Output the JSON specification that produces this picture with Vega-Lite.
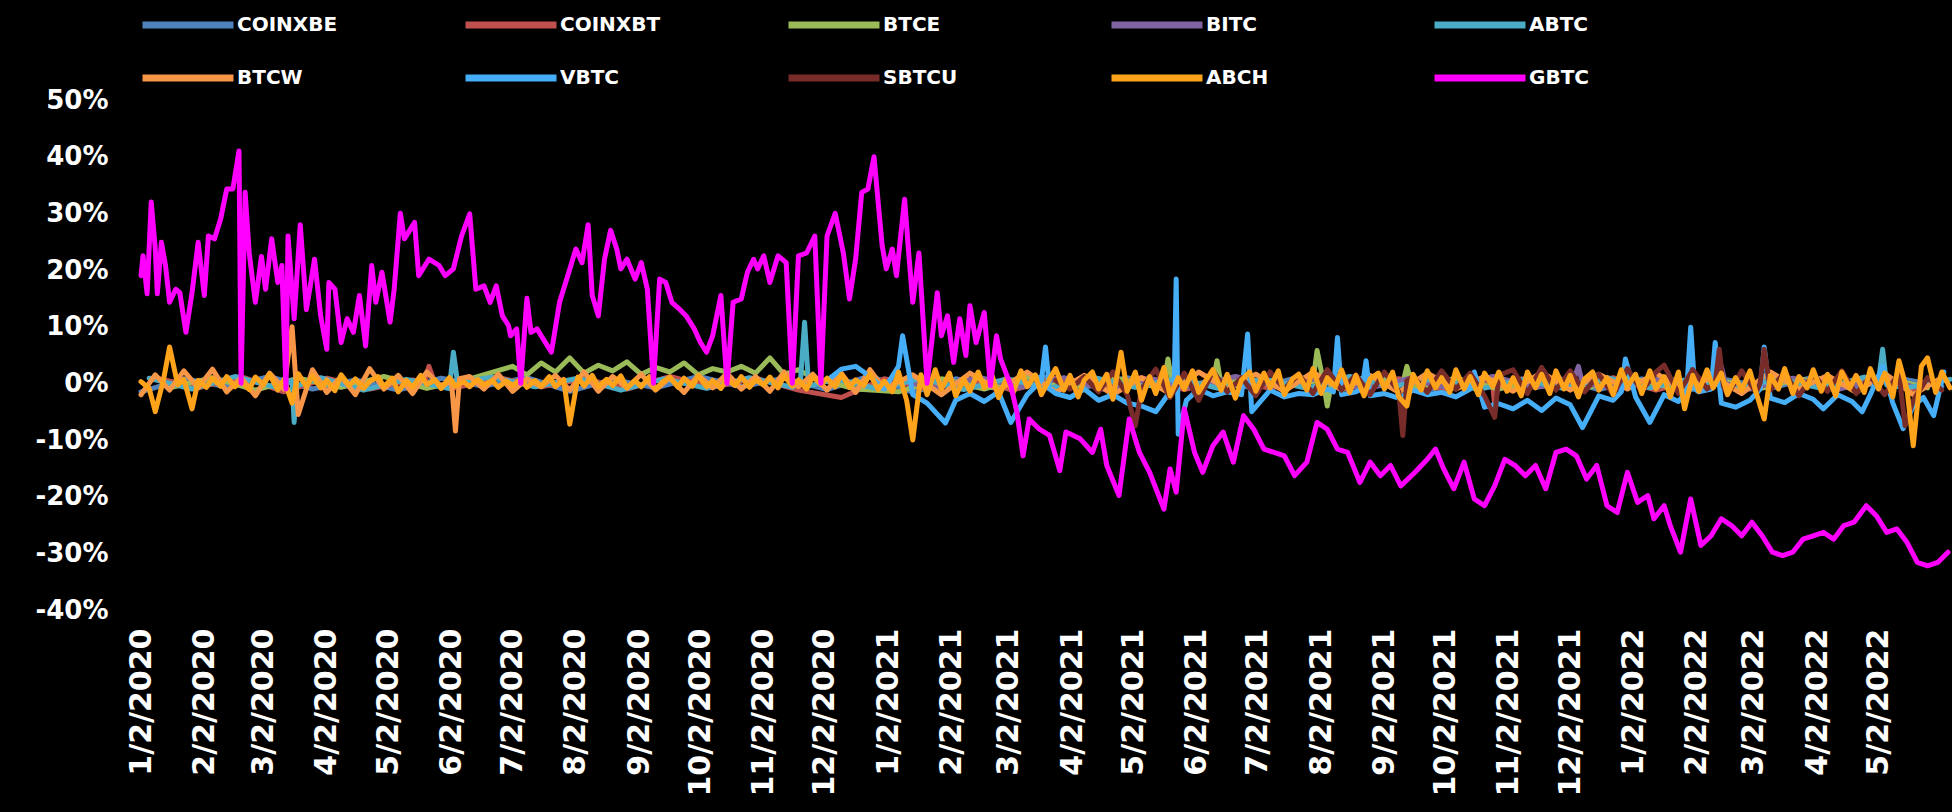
{
"$schema": "https://vega.github.io/schema/vega-lite/v6.json",
"width": 1809, "height": 510,
"autosize": {"type": "none"},
"padding": {"left": 141, "top": 100, "right": 2, "bottom": 202},
"background": "#000000",
"config": {"view": {"stroke": null}},
"data": {"values": [
{"d":"2020-01-02","s":"COINXBE","v":-1.5},{"d":"2020-01-23","s":"COINXBE","v":0.8},{"d":"2020-02-13","s":"COINXBE","v":-0.6},{"d":"2020-03-05","s":"COINXBE","v":1.2},{"d":"2020-03-26","s":"COINXBE","v":-1.0},{"d":"2020-04-16","s":"COINXBE","v":0.6},{"d":"2020-05-07","s":"COINXBE","v":-1.2},{"d":"2020-05-28","s":"COINXBE","v":0.9},{"d":"2020-06-18","s":"COINXBE","v":-0.5},{"d":"2020-07-09","s":"COINXBE","v":1.0},{"d":"2020-07-30","s":"COINXBE","v":-1.4},{"d":"2020-08-20","s":"COINXBE","v":0.7},{"d":"2020-09-10","s":"COINXBE","v":-0.8},{"d":"2020-10-01","s":"COINXBE","v":1.2},{"d":"2020-10-22","s":"COINXBE","v":-0.6},{"d":"2020-11-12","s":"COINXBE","v":0.9},{"d":"2020-12-03","s":"COINXBE","v":-1.1},{"d":"2020-12-24","s":"COINXBE","v":1.3},{"d":"2021-01-14","s":"COINXBE","v":-1.6},{"d":"2021-02-04","s":"COINXBE","v":0.8},{"d":"2021-02-25","s":"COINXBE","v":-1.0},{"d":"2021-03-18","s":"COINXBE","v":1.2},{"d":"2021-04-08","s":"COINXBE","v":-0.7},{"d":"2021-04-29","s":"COINXBE","v":1.0},{"d":"2021-05-20","s":"COINXBE","v":-1.3},{"d":"2021-06-10","s":"COINXBE","v":0.6},{"d":"2021-07-01","s":"COINXBE","v":-0.9},{"d":"2021-07-22","s":"COINXBE","v":1.1},{"d":"2021-08-12","s":"COINXBE","v":-0.5},{"d":"2021-09-02","s":"COINXBE","v":0.9},{"d":"2021-09-23","s":"COINXBE","v":-1.2},{"d":"2021-10-14","s":"COINXBE","v":0.7},{"d":"2021-11-04","s":"COINXBE","v":-0.8},{"d":"2021-11-25","s":"COINXBE","v":1.0},{"d":"2021-12-16","s":"COINXBE","v":-1.1},{"d":"2022-01-06","s":"COINXBE","v":0.8},{"d":"2022-01-27","s":"COINXBE","v":-1.4},{"d":"2022-02-17","s":"COINXBE","v":0.6},{"d":"2022-03-10","s":"COINXBE","v":-0.9},{"d":"2022-03-31","s":"COINXBE","v":1.1},{"d":"2022-04-21","s":"COINXBE","v":-0.7},{"d":"2022-05-12","s":"COINXBE","v":0.9},{"d":"2022-06-02","s":"COINXBE","v":-0.6},
{"d":"2020-01-09","s":"COINXBT","v":1.0},{"d":"2020-01-30","s":"COINXBT","v":-0.8},{"d":"2020-02-20","s":"COINXBT","v":1.2},{"d":"2020-03-12","s":"COINXBT","v":-1.5},{"d":"2020-04-02","s":"COINXBT","v":0.9},{"d":"2020-04-23","s":"COINXBT","v":-1.0},{"d":"2020-05-14","s":"COINXBT","v":0.6},{"d":"2020-05-20","s":"COINXBT","v":0.2},{"d":"2020-05-22","s":"COINXBT","v":3.0},{"d":"2020-05-25","s":"COINXBT","v":0.0},{"d":"2020-06-04","s":"COINXBT","v":-0.8},{"d":"2020-06-25","s":"COINXBT","v":1.0},{"d":"2020-07-16","s":"COINXBT","v":-0.6},{"d":"2020-08-06","s":"COINXBT","v":0.8},{"d":"2020-08-27","s":"COINXBT","v":-1.0},{"d":"2020-09-17","s":"COINXBT","v":1.2},{"d":"2020-10-08","s":"COINXBT","v":-0.7},{"d":"2020-10-29","s":"COINXBT","v":0.9},{"d":"2020-11-19","s":"COINXBT","v":-1.2},{"d":"2020-12-10","s":"COINXBT","v":-2.5},{"d":"2020-12-31","s":"COINXBT","v":0.8},{"d":"2021-01-21","s":"COINXBT","v":-1.0},{"d":"2021-02-11","s":"COINXBT","v":0.7},{"d":"2021-03-04","s":"COINXBT","v":-1.2},{"d":"2021-03-25","s":"COINXBT","v":0.9},{"d":"2021-04-15","s":"COINXBT","v":-0.6},{"d":"2021-05-06","s":"COINXBT","v":1.0},{"d":"2021-05-27","s":"COINXBT","v":-1.1},{"d":"2021-06-17","s":"COINXBT","v":0.8},{"d":"2021-07-08","s":"COINXBT","v":-0.9},{"d":"2021-07-29","s":"COINXBT","v":1.2},{"d":"2021-08-19","s":"COINXBT","v":-0.6},{"d":"2021-09-09","s":"COINXBT","v":0.8},{"d":"2021-09-30","s":"COINXBT","v":-1.0},{"d":"2021-10-21","s":"COINXBT","v":0.6},{"d":"2021-10-25","s":"COINXBT","v":0.0},{"d":"2021-10-26","s":"COINXBT","v":-4.0},{"d":"2021-10-28","s":"COINXBT","v":0.3},{"d":"2021-11-11","s":"COINXBT","v":0.9},{"d":"2021-12-02","s":"COINXBT","v":-0.8},{"d":"2021-12-23","s":"COINXBT","v":1.0},{"d":"2022-01-13","s":"COINXBT","v":-1.2},{"d":"2022-02-03","s":"COINXBT","v":0.7},{"d":"2022-02-24","s":"COINXBT","v":-0.9},{"d":"2022-03-17","s":"COINXBT","v":1.1},{"d":"2022-04-07","s":"COINXBT","v":-0.6},{"d":"2022-04-28","s":"COINXBT","v":0.8},{"d":"2022-05-19","s":"COINXBT","v":-1.0},
{"d":"2020-01-16","s":"BTCE","v":-0.8},{"d":"2020-02-06","s":"BTCE","v":1.0},{"d":"2020-02-27","s":"BTCE","v":-1.2},{"d":"2020-03-19","s":"BTCE","v":0.9},{"d":"2020-04-09","s":"BTCE","v":-0.7},{"d":"2020-04-30","s":"BTCE","v":1.2},{"d":"2020-05-21","s":"BTCE","v":-0.9},{"d":"2020-06-11","s":"BTCE","v":0.8},{"d":"2020-07-02","s":"BTCE","v":3.0},{"d":"2020-07-09","s":"BTCE","v":1.5},{"d":"2020-07-16","s":"BTCE","v":3.6},{"d":"2020-07-23","s":"BTCE","v":2.0},{"d":"2020-07-30","s":"BTCE","v":4.5},{"d":"2020-08-06","s":"BTCE","v":1.8},{"d":"2020-08-13","s":"BTCE","v":3.2},{"d":"2020-08-20","s":"BTCE","v":2.2},{"d":"2020-08-27","s":"BTCE","v":3.8},{"d":"2020-09-03","s":"BTCE","v":1.6},{"d":"2020-09-10","s":"BTCE","v":2.8},{"d":"2020-09-17","s":"BTCE","v":2.0},{"d":"2020-09-24","s":"BTCE","v":3.6},{"d":"2020-10-01","s":"BTCE","v":1.5},{"d":"2020-10-08","s":"BTCE","v":2.6},{"d":"2020-10-15","s":"BTCE","v":2.0},{"d":"2020-10-22","s":"BTCE","v":3.0},{"d":"2020-10-29","s":"BTCE","v":1.8},{"d":"2020-11-05","s":"BTCE","v":4.5},{"d":"2020-11-12","s":"BTCE","v":1.6},{"d":"2020-11-19","s":"BTCE","v":2.4},{"d":"2020-11-26","s":"BTCE","v":1.0},{"d":"2020-12-17","s":"BTCE","v":-1.0},{"d":"2021-01-07","s":"BTCE","v":-1.5},{"d":"2021-01-28","s":"BTCE","v":0.8},{"d":"2021-02-18","s":"BTCE","v":-1.0},{"d":"2021-03-11","s":"BTCE","v":1.2},{"d":"2021-04-01","s":"BTCE","v":-0.8},{"d":"2021-04-22","s":"BTCE","v":1.0},{"d":"2021-05-13","s":"BTCE","v":-0.6},{"d":"2021-05-17","s":"BTCE","v":0.0},{"d":"2021-05-19","s":"BTCE","v":4.3},{"d":"2021-05-21","s":"BTCE","v":0.0},{"d":"2021-06-03","s":"BTCE","v":-0.9},{"d":"2021-06-10","s":"BTCE","v":0.2},{"d":"2021-06-12","s":"BTCE","v":4.0},{"d":"2021-06-14","s":"BTCE","v":-0.2},{"d":"2021-06-24","s":"BTCE","v":1.0},{"d":"2021-07-15","s":"BTCE","v":-0.7},{"d":"2021-07-29","s":"BTCE","v":0.3},{"d":"2021-07-31","s":"BTCE","v":5.8},{"d":"2021-08-03","s":"BTCE","v":0.5},{"d":"2021-08-05","s":"BTCE","v":-4.0},{"d":"2021-08-07","s":"BTCE","v":0.0},{"d":"2021-08-26","s":"BTCE","v":1.0},{"d":"2021-09-11","s":"BTCE","v":0.0},{"d":"2021-09-13","s":"BTCE","v":3.0},{"d":"2021-09-16","s":"BTCE","v":-0.8},{"d":"2021-10-07","s":"BTCE","v":0.9},{"d":"2021-10-28","s":"BTCE","v":-1.0},{"d":"2021-11-18","s":"BTCE","v":0.8},{"d":"2021-12-09","s":"BTCE","v":-0.9},{"d":"2021-12-30","s":"BTCE","v":1.0},{"d":"2022-01-20","s":"BTCE","v":-0.7},{"d":"2022-02-10","s":"BTCE","v":0.9},{"d":"2022-03-03","s":"BTCE","v":-1.1},{"d":"2022-03-24","s":"BTCE","v":0.8},{"d":"2022-04-14","s":"BTCE","v":-0.6},{"d":"2022-05-05","s":"BTCE","v":1.0},{"d":"2022-05-26","s":"BTCE","v":-0.8},
{"d":"2021-01-04","s":"BITC","v":0.8},{"d":"2021-01-25","s":"BITC","v":-0.9},{"d":"2021-02-15","s":"BITC","v":1.1},{"d":"2021-03-08","s":"BITC","v":-0.7},{"d":"2021-03-29","s":"BITC","v":1.0},{"d":"2021-04-19","s":"BITC","v":-1.2},{"d":"2021-05-10","s":"BITC","v":0.9},{"d":"2021-05-31","s":"BITC","v":-0.8},{"d":"2021-06-21","s":"BITC","v":1.2},{"d":"2021-07-12","s":"BITC","v":-0.6},{"d":"2021-08-02","s":"BITC","v":1.0},{"d":"2021-08-23","s":"BITC","v":-1.1},{"d":"2021-09-13","s":"BITC","v":0.8},{"d":"2021-10-04","s":"BITC","v":-0.9},{"d":"2021-10-25","s":"BITC","v":1.2},{"d":"2021-11-15","s":"BITC","v":-0.7},{"d":"2021-12-03","s":"BITC","v":0.0},{"d":"2021-12-06","s":"BITC","v":3.0},{"d":"2021-12-08","s":"BITC","v":0.0},{"d":"2021-12-27","s":"BITC","v":-0.9},{"d":"2022-01-17","s":"BITC","v":1.0},{"d":"2022-02-07","s":"BITC","v":-0.8},{"d":"2022-02-12","s":"BITC","v":0.0},{"d":"2022-02-14","s":"BITC","v":3.0},{"d":"2022-02-16","s":"BITC","v":0.0},{"d":"2022-02-28","s":"BITC","v":-1.0},{"d":"2022-03-21","s":"BITC","v":0.9},{"d":"2022-04-11","s":"BITC","v":-1.2},{"d":"2022-05-02","s":"BITC","v":0.8},{"d":"2022-05-23","s":"BITC","v":-0.9},
{"d":"2020-01-06","s":"ABTC","v":0.9},{"d":"2020-01-27","s":"ABTC","v":-1.0},{"d":"2020-02-17","s":"ABTC","v":1.2},{"d":"2020-03-09","s":"ABTC","v":-0.8},{"d":"2020-03-16","s":"ABTC","v":0.5},{"d":"2020-03-17","s":"ABTC","v":-6.9},{"d":"2020-03-18","s":"ABTC","v":-0.5},{"d":"2020-03-30","s":"ABTC","v":1.0},{"d":"2020-04-20","s":"ABTC","v":-1.2},{"d":"2020-05-11","s":"ABTC","v":0.7},{"d":"2020-06-01","s":"ABTC","v":-0.9},{"d":"2020-06-03","s":"ABTC","v":5.5},{"d":"2020-06-05","s":"ABTC","v":0.2},{"d":"2020-06-22","s":"ABTC","v":1.1},{"d":"2020-07-13","s":"ABTC","v":-0.6},{"d":"2020-08-03","s":"ABTC","v":0.9},{"d":"2020-08-24","s":"ABTC","v":-1.2},{"d":"2020-09-14","s":"ABTC","v":0.8},{"d":"2020-10-05","s":"ABTC","v":-0.9},{"d":"2020-10-26","s":"ABTC","v":1.0},{"d":"2020-11-16","s":"ABTC","v":-0.7},{"d":"2020-11-20","s":"ABTC","v":0.5},{"d":"2020-11-22","s":"ABTC","v":10.8},{"d":"2020-11-24","s":"ABTC","v":-0.5},{"d":"2020-12-07","s":"ABTC","v":0.8},{"d":"2020-12-28","s":"ABTC","v":-1.0},{"d":"2021-01-18","s":"ABTC","v":0.9},{"d":"2021-02-08","s":"ABTC","v":-1.1},{"d":"2021-03-01","s":"ABTC","v":0.8},{"d":"2021-03-22","s":"ABTC","v":-0.9},{"d":"2021-04-12","s":"ABTC","v":1.1},{"d":"2021-05-03","s":"ABTC","v":-0.7},{"d":"2021-05-24","s":"ABTC","v":0.9},{"d":"2021-06-14","s":"ABTC","v":-1.0},{"d":"2021-07-05","s":"ABTC","v":0.8},{"d":"2021-07-26","s":"ABTC","v":-0.9},{"d":"2021-08-16","s":"ABTC","v":1.2},{"d":"2021-09-06","s":"ABTC","v":-0.6},{"d":"2021-09-27","s":"ABTC","v":0.9},{"d":"2021-10-18","s":"ABTC","v":-1.1},{"d":"2021-11-08","s":"ABTC","v":0.7},{"d":"2021-11-29","s":"ABTC","v":-0.9},{"d":"2021-12-20","s":"ABTC","v":1.0},{"d":"2022-01-10","s":"ABTC","v":-0.8},{"d":"2022-01-31","s":"ABTC","v":0.9},{"d":"2022-02-21","s":"ABTC","v":-1.0},{"d":"2022-03-14","s":"ABTC","v":0.8},{"d":"2022-04-04","s":"ABTC","v":-0.9},{"d":"2022-04-25","s":"ABTC","v":1.1},{"d":"2022-05-02","s":"ABTC","v":0.5},{"d":"2022-05-04","s":"ABTC","v":6.0},{"d":"2022-05-06","s":"ABTC","v":-0.3},{"d":"2022-05-16","s":"ABTC","v":-0.8},{"d":"2022-06-06","s":"ABTC","v":0.7},
{"d":"2020-01-02","s":"BTCW","v":-2.0},{"d":"2020-01-09","s":"BTCW","v":1.5},{"d":"2020-01-16","s":"BTCW","v":-1.2},{"d":"2020-01-23","s":"BTCW","v":2.2},{"d":"2020-01-30","s":"BTCW","v":-0.8},{"d":"2020-02-06","s":"BTCW","v":2.5},{"d":"2020-02-13","s":"BTCW","v":-1.5},{"d":"2020-02-20","s":"BTCW","v":1.0},{"d":"2020-02-27","s":"BTCW","v":-2.2},{"d":"2020-03-05","s":"BTCW","v":1.8},{"d":"2020-03-12","s":"BTCW","v":-1.0},{"d":"2020-03-16","s":"BTCW","v":10.0},{"d":"2020-03-19","s":"BTCW","v":-5.5},{"d":"2020-03-26","s":"BTCW","v":2.4},{"d":"2020-04-02","s":"BTCW","v":-1.6},{"d":"2020-04-09","s":"BTCW","v":1.2},{"d":"2020-04-16","s":"BTCW","v":-2.0},{"d":"2020-04-23","s":"BTCW","v":2.6},{"d":"2020-04-30","s":"BTCW","v":-1.0},{"d":"2020-05-07","s":"BTCW","v":1.4},{"d":"2020-05-14","s":"BTCW","v":-1.8},{"d":"2020-05-21","s":"BTCW","v":2.0},{"d":"2020-05-28","s":"BTCW","v":-0.6},{"d":"2020-06-02","s":"BTCW","v":0.5},{"d":"2020-06-04","s":"BTCW","v":-8.4},{"d":"2020-06-06","s":"BTCW","v":0.8},{"d":"2020-06-11","s":"BTCW","v":1.2},{"d":"2020-06-18","s":"BTCW","v":-1.0},{"d":"2020-06-25","s":"BTCW","v":1.6},{"d":"2020-07-02","s":"BTCW","v":-1.4},{"d":"2020-07-09","s":"BTCW","v":0.8},{"d":"2020-07-16","s":"BTCW","v":-0.6},{"d":"2020-07-23","s":"BTCW","v":1.4},{"d":"2020-07-30","s":"BTCW","v":-1.2},{"d":"2020-08-06","s":"BTCW","v":2.0},{"d":"2020-08-13","s":"BTCW","v":-1.4},{"d":"2020-08-20","s":"BTCW","v":1.2},{"d":"2020-08-27","s":"BTCW","v":-0.8},{"d":"2020-09-03","s":"BTCW","v":1.6},{"d":"2020-09-10","s":"BTCW","v":-1.2},{"d":"2020-09-17","s":"BTCW","v":1.0},{"d":"2020-09-24","s":"BTCW","v":-1.6},{"d":"2020-10-01","s":"BTCW","v":1.4},{"d":"2020-10-08","s":"BTCW","v":-0.8},{"d":"2020-10-15","s":"BTCW","v":1.8},{"d":"2020-10-22","s":"BTCW","v":-1.0},{"d":"2020-10-29","s":"BTCW","v":1.2},{"d":"2020-11-05","s":"BTCW","v":-1.4},{"d":"2020-11-12","s":"BTCW","v":2.0},{"d":"2020-11-19","s":"BTCW","v":-0.6},{"d":"2020-11-26","s":"BTCW","v":1.6},{"d":"2020-12-03","s":"BTCW","v":-1.2},{"d":"2020-12-10","s":"BTCW","v":1.8},{"d":"2020-12-17","s":"BTCW","v":-1.6},{"d":"2020-12-24","s":"BTCW","v":2.4},{"d":"2020-12-31","s":"BTCW","v":-1.0},{"d":"2021-01-14","s":"BTCW","v":1.5},{"d":"2021-01-28","s":"BTCW","v":-2.0},{"d":"2021-02-11","s":"BTCW","v":1.8},{"d":"2021-02-25","s":"BTCW","v":-1.2},{"d":"2021-03-11","s":"BTCW","v":2.0},{"d":"2021-03-25","s":"BTCW","v":-1.6},{"d":"2021-04-08","s":"BTCW","v":1.4},{"d":"2021-04-22","s":"BTCW","v":-2.0},{"d":"2021-05-06","s":"BTCW","v":1.0},{"d":"2021-05-20","s":"BTCW","v":-1.8},{"d":"2021-06-03","s":"BTCW","v":2.0},{"d":"2021-06-17","s":"BTCW","v":-1.0},{"d":"2021-07-01","s":"BTCW","v":1.6},{"d":"2021-07-15","s":"BTCW","v":-1.4},{"d":"2021-07-29","s":"BTCW","v":2.0},{"d":"2021-08-12","s":"BTCW","v":-1.2},{"d":"2021-08-26","s":"BTCW","v":1.4},{"d":"2021-09-09","s":"BTCW","v":-1.6},{"d":"2021-09-23","s":"BTCW","v":1.8},{"d":"2021-10-07","s":"BTCW","v":-1.0},{"d":"2021-10-21","s":"BTCW","v":1.2},{"d":"2021-11-04","s":"BTCW","v":-1.4},{"d":"2021-11-18","s":"BTCW","v":2.0},{"d":"2021-12-02","s":"BTCW","v":-1.2},{"d":"2021-12-16","s":"BTCW","v":1.6},{"d":"2021-12-30","s":"BTCW","v":-1.0},{"d":"2022-01-13","s":"BTCW","v":1.8},{"d":"2022-01-27","s":"BTCW","v":-1.4},{"d":"2022-02-10","s":"BTCW","v":1.2},{"d":"2022-02-24","s":"BTCW","v":-1.8},{"d":"2022-03-10","s":"BTCW","v":2.0},{"d":"2022-03-24","s":"BTCW","v":-1.0},{"d":"2022-04-07","s":"BTCW","v":1.4},{"d":"2022-04-21","s":"BTCW","v":-1.6},{"d":"2022-05-05","s":"BTCW","v":1.8},{"d":"2022-05-19","s":"BTCW","v":-2.0},{"d":"2022-06-02","s":"BTCW","v":1.0},
{"d":"2020-12-03","s":"VBTC","v":0.5},{"d":"2020-12-10","s":"VBTC","v":2.5},{"d":"2020-12-17","s":"VBTC","v":3.0},{"d":"2020-12-24","s":"VBTC","v":1.2},{"d":"2020-12-31","s":"VBTC","v":-1.0},{"d":"2021-01-07","s":"VBTC","v":3.0},{"d":"2021-01-09","s":"VBTC","v":8.4},{"d":"2021-01-14","s":"VBTC","v":-2.0},{"d":"2021-01-21","s":"VBTC","v":-3.5},{"d":"2021-01-30","s":"VBTC","v":-7.0},{"d":"2021-02-04","s":"VBTC","v":-3.0},{"d":"2021-02-11","s":"VBTC","v":-1.8},{"d":"2021-02-18","s":"VBTC","v":-3.2},{"d":"2021-02-25","s":"VBTC","v":-1.5},{"d":"2021-03-03","s":"VBTC","v":-6.9},{"d":"2021-03-11","s":"VBTC","v":-2.0},{"d":"2021-03-18","s":"VBTC","v":0.5},{"d":"2021-03-20","s":"VBTC","v":6.4},{"d":"2021-03-22","s":"VBTC","v":-1.0},{"d":"2021-03-25","s":"VBTC","v":-1.8},{"d":"2021-04-01","s":"VBTC","v":-2.5},{"d":"2021-04-08","s":"VBTC","v":-1.0},{"d":"2021-04-15","s":"VBTC","v":-3.0},{"d":"2021-04-22","s":"VBTC","v":-2.0},{"d":"2021-04-29","s":"VBTC","v":-3.5},{"d":"2021-05-06","s":"VBTC","v":-4.0},{"d":"2021-05-13","s":"VBTC","v":-5.0},{"d":"2021-05-20","s":"VBTC","v":-1.5},{"d":"2021-05-22","s":"VBTC","v":-1.0},{"d":"2021-05-23","s":"VBTC","v":18.4},{"d":"2021-05-24","s":"VBTC","v":-9.0},{"d":"2021-05-28","s":"VBTC","v":-3.0},{"d":"2021-06-03","s":"VBTC","v":-1.0},{"d":"2021-06-10","s":"VBTC","v":-2.2},{"d":"2021-06-17","s":"VBTC","v":-1.5},{"d":"2021-06-24","s":"VBTC","v":-2.0},{"d":"2021-06-27","s":"VBTC","v":8.7},{"d":"2021-06-29","s":"VBTC","v":-5.0},{"d":"2021-07-08","s":"VBTC","v":-1.2},{"d":"2021-07-15","s":"VBTC","v":-2.4},{"d":"2021-07-22","s":"VBTC","v":-1.8},{"d":"2021-07-29","s":"VBTC","v":-2.0},{"d":"2021-08-05","s":"VBTC","v":-1.0},{"d":"2021-08-08","s":"VBTC","v":-1.5},{"d":"2021-08-10","s":"VBTC","v":8.1},{"d":"2021-08-12","s":"VBTC","v":-2.0},{"d":"2021-08-19","s":"VBTC","v":-1.5},{"d":"2021-08-22","s":"VBTC","v":-1.0},{"d":"2021-08-24","s":"VBTC","v":4.0},{"d":"2021-08-26","s":"VBTC","v":-2.2},{"d":"2021-09-02","s":"VBTC","v":-1.8},{"d":"2021-09-09","s":"VBTC","v":-2.6},{"d":"2021-09-16","s":"VBTC","v":-1.2},{"d":"2021-09-23","s":"VBTC","v":-2.0},{"d":"2021-09-30","s":"VBTC","v":-1.6},{"d":"2021-10-07","s":"VBTC","v":-2.4},{"d":"2021-10-14","s":"VBTC","v":-1.0},{"d":"2021-10-16","s":"VBTC","v":2.0},{"d":"2021-10-21","s":"VBTC","v":-4.2},{"d":"2021-10-28","s":"VBTC","v":-3.6},{"d":"2021-11-04","s":"VBTC","v":-4.5},{"d":"2021-11-11","s":"VBTC","v":-3.0},{"d":"2021-11-18","s":"VBTC","v":-4.8},{"d":"2021-11-25","s":"VBTC","v":-2.6},{"d":"2021-12-02","s":"VBTC","v":-3.8},{"d":"2021-12-08","s":"VBTC","v":-7.8},{"d":"2021-12-16","s":"VBTC","v":-2.2},{"d":"2021-12-23","s":"VBTC","v":-3.0},{"d":"2021-12-27","s":"VBTC","v":-1.5},{"d":"2021-12-29","s":"VBTC","v":4.3},{"d":"2022-01-03","s":"VBTC","v":-2.4},{"d":"2022-01-10","s":"VBTC","v":-6.9},{"d":"2022-01-17","s":"VBTC","v":-2.0},{"d":"2022-01-24","s":"VBTC","v":-3.2},{"d":"2022-01-28","s":"VBTC","v":-1.5},{"d":"2022-01-30","s":"VBTC","v":9.9},{"d":"2022-02-01","s":"VBTC","v":-1.0},{"d":"2022-02-03","s":"VBTC","v":-1.5},{"d":"2022-02-09","s":"VBTC","v":-1.0},{"d":"2022-02-11","s":"VBTC","v":7.2},{"d":"2022-02-14","s":"VBTC","v":-3.5},{"d":"2022-02-21","s":"VBTC","v":-4.2},{"d":"2022-02-28","s":"VBTC","v":-3.0},{"d":"2022-03-05","s":"VBTC","v":-1.0},{"d":"2022-03-07","s":"VBTC","v":6.4},{"d":"2022-03-10","s":"VBTC","v":-2.6},{"d":"2022-03-17","s":"VBTC","v":-3.4},{"d":"2022-03-24","s":"VBTC","v":-1.8},{"d":"2022-03-31","s":"VBTC","v":-2.8},{"d":"2022-04-05","s":"VBTC","v":-4.5},{"d":"2022-04-12","s":"VBTC","v":-2.0},{"d":"2022-04-19","s":"VBTC","v":-3.2},{"d":"2022-04-24","s":"VBTC","v":-5.0},{"d":"2022-04-28","s":"VBTC","v":-2.0},{"d":"2022-05-04","s":"VBTC","v":3.0},{"d":"2022-05-09","s":"VBTC","v":-3.5},{"d":"2022-05-14","s":"VBTC","v":-8.0},{"d":"2022-05-19","s":"VBTC","v":-4.0},{"d":"2022-05-24","s":"VBTC","v":-2.5},{"d":"2022-05-29","s":"VBTC","v":-5.7},{"d":"2022-06-03","s":"VBTC","v":2.0},
{"d":"2021-03-25","s":"SBTCU","v":0.5},{"d":"2021-04-01","s":"SBTCU","v":-1.0},{"d":"2021-04-08","s":"SBTCU","v":1.2},{"d":"2021-04-15","s":"SBTCU","v":-1.5},{"d":"2021-04-22","s":"SBTCU","v":2.0},{"d":"2021-04-29","s":"SBTCU","v":-2.0},{"d":"2021-05-03","s":"SBTCU","v":-7.5},{"d":"2021-05-06","s":"SBTCU","v":-1.0},{"d":"2021-05-13","s":"SBTCU","v":2.5},{"d":"2021-05-20","s":"SBTCU","v":-2.5},{"d":"2021-05-27","s":"SBTCU","v":1.8},{"d":"2021-06-03","s":"SBTCU","v":-3.0},{"d":"2021-06-10","s":"SBTCU","v":2.2},{"d":"2021-06-17","s":"SBTCU","v":-1.5},{"d":"2021-06-24","s":"SBTCU","v":1.0},{"d":"2021-07-01","s":"SBTCU","v":-2.2},{"d":"2021-07-08","s":"SBTCU","v":2.0},{"d":"2021-07-15","s":"SBTCU","v":-1.0},{"d":"2021-07-22","s":"SBTCU","v":1.6},{"d":"2021-07-29","s":"SBTCU","v":-1.8},{"d":"2021-08-05","s":"SBTCU","v":2.4},{"d":"2021-08-12","s":"SBTCU","v":-1.2},{"d":"2021-08-19","s":"SBTCU","v":1.5},{"d":"2021-08-26","s":"SBTCU","v":-2.0},{"d":"2021-09-02","s":"SBTCU","v":2.0},{"d":"2021-09-09","s":"SBTCU","v":-1.5},{"d":"2021-09-11","s":"SBTCU","v":-9.2},{"d":"2021-09-13","s":"SBTCU","v":0.5},{"d":"2021-09-16","s":"SBTCU","v":1.2},{"d":"2021-09-23","s":"SBTCU","v":-1.6},{"d":"2021-09-30","s":"SBTCU","v":2.2},{"d":"2021-10-07","s":"SBTCU","v":-1.0},{"d":"2021-10-14","s":"SBTCU","v":1.8},{"d":"2021-10-21","s":"SBTCU","v":-2.2},{"d":"2021-10-26","s":"SBTCU","v":-6.0},{"d":"2021-10-28","s":"SBTCU","v":1.4},{"d":"2021-11-04","s":"SBTCU","v":2.4},{"d":"2021-11-11","s":"SBTCU","v":-1.8},{"d":"2021-11-18","s":"SBTCU","v":2.8},{"d":"2021-11-25","s":"SBTCU","v":-1.2},{"d":"2021-12-02","s":"SBTCU","v":2.2},{"d":"2021-12-09","s":"SBTCU","v":-1.5},{"d":"2021-12-16","s":"SBTCU","v":1.6},{"d":"2021-12-23","s":"SBTCU","v":-2.0},{"d":"2021-12-30","s":"SBTCU","v":2.6},{"d":"2022-01-06","s":"SBTCU","v":-1.4},{"d":"2022-01-13","s":"SBTCU","v":2.0},{"d":"2022-01-17","s":"SBTCU","v":3.2},{"d":"2022-01-24","s":"SBTCU","v":-1.8},{"d":"2022-01-31","s":"SBTCU","v":2.4},{"d":"2022-02-07","s":"SBTCU","v":-1.0},{"d":"2022-02-11","s":"SBTCU","v":0.0},{"d":"2022-02-13","s":"SBTCU","v":6.0},{"d":"2022-02-15","s":"SBTCU","v":-0.5},{"d":"2022-02-17","s":"SBTCU","v":-2.0},{"d":"2022-02-24","s":"SBTCU","v":2.2},{"d":"2022-03-03","s":"SBTCU","v":-1.6},{"d":"2022-03-05","s":"SBTCU","v":0.0},{"d":"2022-03-07","s":"SBTCU","v":6.0},{"d":"2022-03-10","s":"SBTCU","v":-1.2},{"d":"2022-03-17","s":"SBTCU","v":2.0},{"d":"2022-03-24","s":"SBTCU","v":-2.2},{"d":"2022-03-31","s":"SBTCU","v":1.6},{"d":"2022-04-07","s":"SBTCU","v":-1.4},{"d":"2022-04-14","s":"SBTCU","v":2.2},{"d":"2022-04-21","s":"SBTCU","v":-1.8},{"d":"2022-04-28","s":"SBTCU","v":1.2},{"d":"2022-05-05","s":"SBTCU","v":-2.0},{"d":"2022-05-12","s":"SBTCU","v":1.8},{"d":"2022-05-15","s":"SBTCU","v":-7.5},{"d":"2022-05-19","s":"SBTCU","v":-3.0},{"d":"2022-05-26","s":"SBTCU","v":1.0},{"d":"2022-06-02","s":"SBTCU","v":-1.2},
{"d":"2020-01-02","s":"ABCH","v":0.3},{"d":"2020-01-06","s":"ABCH","v":-0.9},{"d":"2020-01-09","s":"ABCH","v":-5.0},{"d":"2020-01-13","s":"ABCH","v":0.6},{"d":"2020-01-16","s":"ABCH","v":6.4},{"d":"2020-01-20","s":"ABCH","v":-0.3},{"d":"2020-01-23","s":"ABCH","v":0.7},{"d":"2020-01-27","s":"ABCH","v":-4.5},{"d":"2020-01-30","s":"ABCH","v":0.5},
{"d":"2020-02-03","s":"ABCH","v":-0.7},{"d":"2020-02-06","s":"ABCH","v":0.9},{"d":"2020-02-10","s":"ABCH","v":-0.5},{"d":"2020-02-13","s":"ABCH","v":1.2},{"d":"2020-02-17","s":"ABCH","v":-0.6},{"d":"2020-02-20","s":"ABCH","v":0.4},{"d":"2020-02-24","s":"ABCH","v":-1.1},{"d":"2020-02-27","s":"ABCH","v":1.1},
{"d":"2020-03-02","s":"ABCH","v":-0.3},{"d":"2020-03-05","s":"ABCH","v":1.6},{"d":"2020-03-09","s":"ABCH","v":-1.2},{"d":"2020-03-12","s":"ABCH","v":0.7},{"d":"2020-03-16","s":"ABCH","v":-3.5},{"d":"2020-03-19","s":"ABCH","v":1.7},{"d":"2020-03-23","s":"ABCH","v":-0.6},{"d":"2020-03-26","s":"ABCH","v":1.3},{"d":"2020-03-30","s":"ABCH","v":-0.8},
{"d":"2020-04-02","s":"ABCH","v":0.6},{"d":"2020-04-06","s":"ABCH","v":-1.3},{"d":"2020-04-09","s":"ABCH","v":1.5},{"d":"2020-04-13","s":"ABCH","v":-0.4},{"d":"2020-04-16","s":"ABCH","v":0.8},{"d":"2020-04-20","s":"ABCH","v":-0.9},{"d":"2020-04-23","s":"ABCH","v":0.3},{"d":"2020-04-27","s":"ABCH","v":1.2},{"d":"2020-04-30","s":"ABCH","v":-0.6},
{"d":"2020-05-04","s":"ABCH","v":0.9},{"d":"2020-05-07","s":"ABCH","v":-1.5},{"d":"2020-05-11","s":"ABCH","v":0.5},{"d":"2020-05-14","s":"ABCH","v":-0.7},{"d":"2020-05-18","s":"ABCH","v":1.4},{"d":"2020-05-21","s":"ABCH","v":-0.2},{"d":"2020-05-25","s":"ABCH","v":0.6},{"d":"2020-05-28","s":"ABCH","v":-0.9},
{"d":"2020-06-01","s":"ABCH","v":1.0},{"d":"2020-06-04","s":"ABCH","v":-0.5},{"d":"2020-06-08","s":"ABCH","v":0.3},{"d":"2020-06-11","s":"ABCH","v":-0.6},{"d":"2020-06-15","s":"ABCH","v":0.7},{"d":"2020-06-18","s":"ABCH","v":-0.3},{"d":"2020-06-22","s":"ABCH","v":0.5},{"d":"2020-06-25","s":"ABCH","v":-0.7},{"d":"2020-06-29","s":"ABCH","v":0.4},
{"d":"2020-07-02","s":"ABCH","v":-0.4},{"d":"2020-07-06","s":"ABCH","v":0.8},{"d":"2020-07-09","s":"ABCH","v":-0.7},{"d":"2020-07-13","s":"ABCH","v":0.5},{"d":"2020-07-16","s":"ABCH","v":-0.5},{"d":"2020-07-20","s":"ABCH","v":1.2},{"d":"2020-07-23","s":"ABCH","v":-0.6},{"d":"2020-07-27","s":"ABCH","v":0.7},{"d":"2020-07-30","s":"ABCH","v":-7.2},
{"d":"2020-08-03","s":"ABCH","v":1.1},{"d":"2020-08-06","s":"ABCH","v":-0.5},{"d":"2020-08-10","s":"ABCH","v":1.4},{"d":"2020-08-13","s":"ABCH","v":-0.6},{"d":"2020-08-17","s":"ABCH","v":0.7},{"d":"2020-08-20","s":"ABCH","v":-0.4},{"d":"2020-08-24","s":"ABCH","v":1.3},{"d":"2020-08-27","s":"ABCH","v":-0.8},{"d":"2020-08-31","s":"ABCH","v":0.5},
{"d":"2020-09-03","s":"ABCH","v":-0.6},{"d":"2020-09-07","s":"ABCH","v":1.2},{"d":"2020-09-10","s":"ABCH","v":-1.0},{"d":"2020-09-14","s":"ABCH","v":0.4},{"d":"2020-09-17","s":"ABCH","v":1.1},{"d":"2020-09-21","s":"ABCH","v":-0.7},{"d":"2020-09-24","s":"ABCH","v":0.9},{"d":"2020-09-28","s":"ABCH","v":-0.5},
{"d":"2020-10-01","s":"ABCH","v":1.3},{"d":"2020-10-05","s":"ABCH","v":-0.6},{"d":"2020-10-08","s":"ABCH","v":0.5},{"d":"2020-10-12","s":"ABCH","v":-0.9},{"d":"2020-10-15","s":"ABCH","v":0.8},{"d":"2020-10-19","s":"ABCH","v":-0.4},{"d":"2020-10-22","s":"ABCH","v":1.2},{"d":"2020-10-26","s":"ABCH","v":-0.7},{"d":"2020-10-29","s":"ABCH","v":0.6},
{"d":"2020-11-02","s":"ABCH","v":-0.3},{"d":"2020-11-05","s":"ABCH","v":1.1},{"d":"2020-11-09","s":"ABCH","v":-0.8},{"d":"2020-11-12","s":"ABCH","v":1.4},{"d":"2020-11-16","s":"ABCH","v":-0.5},{"d":"2020-11-19","s":"ABCH","v":0.6},{"d":"2020-11-23","s":"ABCH","v":-1.0},{"d":"2020-11-26","s":"ABCH","v":1.2},{"d":"2020-11-30","s":"ABCH","v":-0.2},
{"d":"2020-12-03","s":"ABCH","v":0.9},{"d":"2020-12-07","s":"ABCH","v":-0.6},{"d":"2020-12-10","s":"ABCH","v":1.6},{"d":"2020-12-14","s":"ABCH","v":-0.7},{"d":"2020-12-17","s":"ABCH","v":0.6},{"d":"2020-12-21","s":"ABCH","v":-0.4},{"d":"2020-12-24","s":"ABCH","v":1.7},{"d":"2020-12-28","s":"ABCH","v":-1.1},{"d":"2020-12-31","s":"ABCH","v":0.4},
{"d":"2021-01-04","s":"ABCH","v":-1.5},{"d":"2021-01-07","s":"ABCH","v":2.0},{"d":"2021-01-11","s":"ABCH","v":-3.0},{"d":"2021-01-14","s":"ABCH","v":-10.0},{"d":"2021-01-18","s":"ABCH","v":1.5},{"d":"2021-01-21","s":"ABCH","v":-2.0},{"d":"2021-01-25","s":"ABCH","v":2.4},{"d":"2021-01-28","s":"ABCH","v":-1.0},
{"d":"2021-02-01","s":"ABCH","v":1.8},{"d":"2021-02-04","s":"ABCH","v":-2.2},{"d":"2021-02-08","s":"ABCH","v":0.8},{"d":"2021-02-11","s":"ABCH","v":-1.4},{"d":"2021-02-15","s":"ABCH","v":2.0},{"d":"2021-02-18","s":"ABCH","v":-0.8},{"d":"2021-02-22","s":"ABCH","v":1.2},{"d":"2021-02-25","s":"ABCH","v":-2.5},
{"d":"2021-03-01","s":"ABCH","v":1.0},{"d":"2021-03-04","s":"ABCH","v":-1.8},{"d":"2021-03-08","s":"ABCH","v":2.2},{"d":"2021-03-11","s":"ABCH","v":-0.6},{"d":"2021-03-15","s":"ABCH","v":1.5},{"d":"2021-03-18","s":"ABCH","v":-2.0},{"d":"2021-03-22","s":"ABCH","v":0.8},{"d":"2021-03-25","s":"ABCH","v":2.6},{"d":"2021-03-29","s":"ABCH","v":-1.2},
{"d":"2021-04-01","s":"ABCH","v":1.4},{"d":"2021-04-05","s":"ABCH","v":-2.4},{"d":"2021-04-08","s":"ABCH","v":0.6},{"d":"2021-04-12","s":"ABCH","v":2.0},{"d":"2021-04-15","s":"ABCH","v":-1.0},{"d":"2021-04-19","s":"ABCH","v":1.6},{"d":"2021-04-22","s":"ABCH","v":-2.8},{"d":"2021-04-26","s":"ABCH","v":5.5},{"d":"2021-04-29","s":"ABCH","v":-1.4},
{"d":"2021-05-03","s":"ABCH","v":2.0},{"d":"2021-05-06","s":"ABCH","v":-3.0},{"d":"2021-05-10","s":"ABCH","v":1.2},{"d":"2021-05-13","s":"ABCH","v":-1.8},{"d":"2021-05-17","s":"ABCH","v":2.8},{"d":"2021-05-20","s":"ABCH","v":-2.2},{"d":"2021-05-24","s":"ABCH","v":1.0},{"d":"2021-05-27","s":"ABCH","v":-1.0},{"d":"2021-05-31","s":"ABCH","v":2.2},
{"d":"2021-06-03","s":"ABCH","v":-1.6},{"d":"2021-06-07","s":"ABCH","v":0.8},{"d":"2021-06-10","s":"ABCH","v":2.4},{"d":"2021-06-14","s":"ABCH","v":-1.2},{"d":"2021-06-17","s":"ABCH","v":1.6},{"d":"2021-06-21","s":"ABCH","v":-2.6},{"d":"2021-06-24","s":"ABCH","v":0.6},{"d":"2021-06-28","s":"ABCH","v":2.0},
{"d":"2021-07-01","s":"ABCH","v":-1.4},{"d":"2021-07-05","s":"ABCH","v":1.8},{"d":"2021-07-08","s":"ABCH","v":-0.8},{"d":"2021-07-12","s":"ABCH","v":2.2},{"d":"2021-07-15","s":"ABCH","v":-2.0},{"d":"2021-07-19","s":"ABCH","v":0.8},{"d":"2021-07-22","s":"ABCH","v":1.6},{"d":"2021-07-26","s":"ABCH","v":-1.2},{"d":"2021-07-29","s":"ABCH","v":2.6},
{"d":"2021-08-02","s":"ABCH","v":-1.8},{"d":"2021-08-05","s":"ABCH","v":1.0},{"d":"2021-08-09","s":"ABCH","v":-0.6},{"d":"2021-08-12","s":"ABCH","v":2.4},{"d":"2021-08-16","s":"ABCH","v":-1.6},{"d":"2021-08-19","s":"ABCH","v":1.4},{"d":"2021-08-23","s":"ABCH","v":-2.2},{"d":"2021-08-26","s":"ABCH","v":0.8},{"d":"2021-08-30","s":"ABCH","v":1.8},
{"d":"2021-09-02","s":"ABCH","v":-1.0},{"d":"2021-09-06","s":"ABCH","v":2.0},{"d":"2021-09-09","s":"ABCH","v":-2.4},{"d":"2021-09-13","s":"ABCH","v":-4.0},{"d":"2021-09-16","s":"ABCH","v":1.6},{"d":"2021-09-20","s":"ABCH","v":-1.2},{"d":"2021-09-23","s":"ABCH","v":2.2},{"d":"2021-09-27","s":"ABCH","v":-0.8},{"d":"2021-09-30","s":"ABCH","v":1.0},
{"d":"2021-10-04","s":"ABCH","v":-1.6},{"d":"2021-10-07","s":"ABCH","v":2.4},{"d":"2021-10-11","s":"ABCH","v":-1.0},{"d":"2021-10-14","s":"ABCH","v":1.2},{"d":"2021-10-18","s":"ABCH","v":-2.0},{"d":"2021-10-21","s":"ABCH","v":1.8},{"d":"2021-10-25","s":"ABCH","v":-0.6},{"d":"2021-10-28","s":"ABCH","v":2.0},
{"d":"2021-11-01","s":"ABCH","v":-1.4},{"d":"2021-11-04","s":"ABCH","v":1.0},{"d":"2021-11-08","s":"ABCH","v":-2.2},{"d":"2021-11-11","s":"ABCH","v":2.0},{"d":"2021-11-15","s":"ABCH","v":-0.8},{"d":"2021-11-18","s":"ABCH","v":1.6},{"d":"2021-11-22","s":"ABCH","v":-1.8},{"d":"2021-11-25","s":"ABCH","v":2.2},{"d":"2021-11-29","s":"ABCH","v":-1.0},
{"d":"2021-12-02","s":"ABCH","v":1.4},{"d":"2021-12-06","s":"ABCH","v":-2.4},{"d":"2021-12-09","s":"ABCH","v":0.8},{"d":"2021-12-13","s":"ABCH","v":2.0},{"d":"2021-12-16","s":"ABCH","v":-1.2},{"d":"2021-12-20","s":"ABCH","v":1.0},{"d":"2021-12-23","s":"ABCH","v":-2.0},{"d":"2021-12-27","s":"ABCH","v":2.4},{"d":"2021-12-30","s":"ABCH","v":-0.6},
{"d":"2022-01-03","s":"ABCH","v":1.6},{"d":"2022-01-06","s":"ABCH","v":-1.8},{"d":"2022-01-10","s":"ABCH","v":2.2},{"d":"2022-01-13","s":"ABCH","v":-1.0},{"d":"2022-01-17","s":"ABCH","v":1.2},{"d":"2022-01-20","s":"ABCH","v":-2.4},{"d":"2022-01-24","s":"ABCH","v":2.0},{"d":"2022-01-27","s":"ABCH","v":-4.5},{"d":"2022-01-31","s":"ABCH","v":1.4},
{"d":"2022-02-03","s":"ABCH","v":-1.4},{"d":"2022-02-07","s":"ABCH","v":2.4},{"d":"2022-02-10","s":"ABCH","v":-0.8},{"d":"2022-02-14","s":"ABCH","v":1.8},{"d":"2022-02-17","s":"ABCH","v":-2.0},{"d":"2022-02-21","s":"ABCH","v":1.0},{"d":"2022-02-24","s":"ABCH","v":-1.2},{"d":"2022-02-28","s":"ABCH","v":2.2},
{"d":"2022-03-03","s":"ABCH","v":-1.6},{"d":"2022-03-07","s":"ABCH","v":-6.3},{"d":"2022-03-10","s":"ABCH","v":1.4},{"d":"2022-03-14","s":"ABCH","v":-1.0},{"d":"2022-03-17","s":"ABCH","v":2.6},{"d":"2022-03-21","s":"ABCH","v":-1.8},{"d":"2022-03-24","s":"ABCH","v":1.2},{"d":"2022-03-28","s":"ABCH","v":-0.8},{"d":"2022-03-31","s":"ABCH","v":2.4},
{"d":"2022-04-04","s":"ABCH","v":-1.4},{"d":"2022-04-07","s":"ABCH","v":1.6},{"d":"2022-04-11","s":"ABCH","v":-2.2},{"d":"2022-04-14","s":"ABCH","v":2.0},{"d":"2022-04-18","s":"ABCH","v":-0.8},{"d":"2022-04-21","s":"ABCH","v":1.4},{"d":"2022-04-25","s":"ABCH","v":-1.6},{"d":"2022-04-28","s":"ABCH","v":2.6},
{"d":"2022-05-02","s":"ABCH","v":-1.0},{"d":"2022-05-05","s":"ABCH","v":1.8},{"d":"2022-05-09","s":"ABCH","v":-2.4},{"d":"2022-05-12","s":"ABCH","v":4.0},{"d":"2022-05-16","s":"ABCH","v":-1.2},{"d":"2022-05-19","s":"ABCH","v":-11.0},{"d":"2022-05-23","s":"ABCH","v":3.0},{"d":"2022-05-26","s":"ABCH","v":4.5},{"d":"2022-05-30","s":"ABCH","v":-1.6},{"d":"2022-06-02","s":"ABCH","v":2.0},{"d":"2022-06-06","s":"ABCH","v":-0.8},
{"d":"2020-01-02","s":"GBTC","v":19},{"d":"2020-01-03","s":"GBTC","v":22.5},{"d":"2020-01-05","s":"GBTC","v":15.8},{"d":"2020-01-07","s":"GBTC","v":32},{"d":"2020-01-09","s":"GBTC","v":23.7},{"d":"2020-01-10","s":"GBTC","v":15.8},{"d":"2020-01-12","s":"GBTC","v":24.9},{"d":"2020-01-14","s":"GBTC","v":20.8},{"d":"2020-01-16","s":"GBTC","v":14.3},{"d":"2020-01-19","s":"GBTC","v":16.6},{"d":"2020-01-21","s":"GBTC","v":16},{"d":"2020-01-24","s":"GBTC","v":9},{"d":"2020-01-27","s":"GBTC","v":16},{"d":"2020-01-30","s":"GBTC","v":24.9},
{"d":"2020-02-02","s":"GBTC","v":15.5},{"d":"2020-02-04","s":"GBTC","v":26},{"d":"2020-02-07","s":"GBTC","v":25.5},{"d":"2020-02-10","s":"GBTC","v":29},{"d":"2020-02-13","s":"GBTC","v":34.3},{"d":"2020-02-16","s":"GBTC","v":34.3},{"d":"2020-02-19","s":"GBTC","v":41},{"d":"2020-02-20","s":"GBTC","v":0},{"d":"2020-02-22","s":"GBTC","v":33.7},{"d":"2020-02-24","s":"GBTC","v":23},{"d":"2020-02-27","s":"GBTC","v":14.3},
{"d":"2020-03-01","s":"GBTC","v":22.4},{"d":"2020-03-03","s":"GBTC","v":16.6},{"d":"2020-03-06","s":"GBTC","v":25.5},{"d":"2020-03-09","s":"GBTC","v":17.8},{"d":"2020-03-11","s":"GBTC","v":20.8},{"d":"2020-03-13","s":"GBTC","v":-1},{"d":"2020-03-14","s":"GBTC","v":26},{"d":"2020-03-17","s":"GBTC","v":11.4},{"d":"2020-03-20","s":"GBTC","v":28},{"d":"2020-03-23","s":"GBTC","v":13},{"d":"2020-03-27","s":"GBTC","v":21.9},{"d":"2020-03-30","s":"GBTC","v":11.9},
{"d":"2020-04-02","s":"GBTC","v":6},{"d":"2020-04-03","s":"GBTC","v":17.8},{"d":"2020-04-06","s":"GBTC","v":16.6},{"d":"2020-04-09","s":"GBTC","v":7.2},{"d":"2020-04-12","s":"GBTC","v":11.4},{"d":"2020-04-15","s":"GBTC","v":9},{"d":"2020-04-18","s":"GBTC","v":15.5},{"d":"2020-04-21","s":"GBTC","v":6.6},{"d":"2020-04-24","s":"GBTC","v":20.8},{"d":"2020-04-26","s":"GBTC","v":14.3},{"d":"2020-04-29","s":"GBTC","v":19.6},
{"d":"2020-05-03","s":"GBTC","v":10.8},{"d":"2020-05-05","s":"GBTC","v":16.6},{"d":"2020-05-08","s":"GBTC","v":30},{"d":"2020-05-10","s":"GBTC","v":25.5},{"d":"2020-05-15","s":"GBTC","v":28.4},{"d":"2020-05-17","s":"GBTC","v":19},{"d":"2020-05-22","s":"GBTC","v":21.9},{"d":"2020-05-27","s":"GBTC","v":20.8},{"d":"2020-05-30","s":"GBTC","v":19},
{"d":"2020-06-03","s":"GBTC","v":20.2},{"d":"2020-06-07","s":"GBTC","v":26},{"d":"2020-06-11","s":"GBTC","v":29.9},{"d":"2020-06-14","s":"GBTC","v":16.6},{"d":"2020-06-18","s":"GBTC","v":17.2},{"d":"2020-06-21","s":"GBTC","v":14.3},{"d":"2020-06-24","s":"GBTC","v":17.2},{"d":"2020-06-27","s":"GBTC","v":11.9},{"d":"2020-06-30","s":"GBTC","v":10.2},
{"d":"2020-07-01","s":"GBTC","v":8.4},{"d":"2020-07-04","s":"GBTC","v":9.6},{"d":"2020-07-06","s":"GBTC","v":0},{"d":"2020-07-09","s":"GBTC","v":15},{"d":"2020-07-11","s":"GBTC","v":9},{"d":"2020-07-14","s":"GBTC","v":9.6},{"d":"2020-07-16","s":"GBTC","v":8.4},{"d":"2020-07-21","s":"GBTC","v":5.5},{"d":"2020-07-25","s":"GBTC","v":14.3},{"d":"2020-07-29","s":"GBTC","v":19},
{"d":"2020-08-02","s":"GBTC","v":23.7},{"d":"2020-08-05","s":"GBTC","v":21.3},{"d":"2020-08-08","s":"GBTC","v":28},{"d":"2020-08-10","s":"GBTC","v":15.5},{"d":"2020-08-13","s":"GBTC","v":11.9},{"d":"2020-08-16","s":"GBTC","v":21.9},{"d":"2020-08-19","s":"GBTC","v":27},{"d":"2020-08-22","s":"GBTC","v":23.7},{"d":"2020-08-24","s":"GBTC","v":20.2},{"d":"2020-08-27","s":"GBTC","v":21.9},{"d":"2020-08-31","s":"GBTC","v":18.4},
{"d":"2020-09-03","s":"GBTC","v":21.3},{"d":"2020-09-06","s":"GBTC","v":16.6},{"d":"2020-09-09","s":"GBTC","v":0},{"d":"2020-09-12","s":"GBTC","v":18.4},{"d":"2020-09-15","s":"GBTC","v":17.8},{"d":"2020-09-18","s":"GBTC","v":14.3},{"d":"2020-09-22","s":"GBTC","v":13},{"d":"2020-09-25","s":"GBTC","v":11.9},{"d":"2020-09-29","s":"GBTC","v":9.6},
{"d":"2020-10-02","s":"GBTC","v":7.2},{"d":"2020-10-05","s":"GBTC","v":5.5},{"d":"2020-10-08","s":"GBTC","v":8.4},{"d":"2020-10-12","s":"GBTC","v":15.5},{"d":"2020-10-15","s":"GBTC","v":0},{"d":"2020-10-18","s":"GBTC","v":14.3},{"d":"2020-10-22","s":"GBTC","v":14.9},{"d":"2020-10-25","s":"GBTC","v":19.6},{"d":"2020-10-28","s":"GBTC","v":21.9},{"d":"2020-10-30","s":"GBTC","v":20.2},
{"d":"2020-11-02","s":"GBTC","v":22.5},{"d":"2020-11-05","s":"GBTC","v":17.8},{"d":"2020-11-09","s":"GBTC","v":22.5},{"d":"2020-11-13","s":"GBTC","v":21.3},{"d":"2020-11-16","s":"GBTC","v":0},{"d":"2020-11-19","s":"GBTC","v":22.5},{"d":"2020-11-23","s":"GBTC","v":23},{"d":"2020-11-27","s":"GBTC","v":26},{"d":"2020-11-30","s":"GBTC","v":0},
{"d":"2020-12-03","s":"GBTC","v":26},{"d":"2020-12-07","s":"GBTC","v":30},{"d":"2020-12-11","s":"GBTC","v":23},{"d":"2020-12-14","s":"GBTC","v":14.9},{"d":"2020-12-17","s":"GBTC","v":21.9},{"d":"2020-12-20","s":"GBTC","v":33.7},{"d":"2020-12-23","s":"GBTC","v":34.3},{"d":"2020-12-26","s":"GBTC","v":40},{"d":"2020-12-30","s":"GBTC","v":24.3},
{"d":"2021-01-01","s":"GBTC","v":20.2},{"d":"2021-01-04","s":"GBTC","v":23.7},{"d":"2021-01-06","s":"GBTC","v":19},{"d":"2021-01-10","s":"GBTC","v":32.5},{"d":"2021-01-12","s":"GBTC","v":23},{"d":"2021-01-14","s":"GBTC","v":14.3},{"d":"2021-01-17","s":"GBTC","v":23},{"d":"2021-01-21","s":"GBTC","v":0},{"d":"2021-01-26","s":"GBTC","v":16},{"d":"2021-01-28","s":"GBTC","v":8.4},{"d":"2021-01-31","s":"GBTC","v":11.9},
{"d":"2021-02-03","s":"GBTC","v":3.7},{"d":"2021-02-06","s":"GBTC","v":11.4},{"d":"2021-02-09","s":"GBTC","v":4.9},{"d":"2021-02-11","s":"GBTC","v":13.7},{"d":"2021-02-14","s":"GBTC","v":7.2},{"d":"2021-02-18","s":"GBTC","v":12.5},{"d":"2021-02-21","s":"GBTC","v":-0.4},{"d":"2021-02-24","s":"GBTC","v":8.4},{"d":"2021-02-26","s":"GBTC","v":4.3},
{"d":"2021-03-03","s":"GBTC","v":-0.4},{"d":"2021-03-06","s":"GBTC","v":-5.1},{"d":"2021-03-09","s":"GBTC","v":-12.8},{"d":"2021-03-12","s":"GBTC","v":-6.3},{"d":"2021-03-17","s":"GBTC","v":-8.1},{"d":"2021-03-22","s":"GBTC","v":-9.2},{"d":"2021-03-27","s":"GBTC","v":-15.4},{"d":"2021-03-30","s":"GBTC","v":-8.6},
{"d":"2021-04-06","s":"GBTC","v":-9.8},{"d":"2021-04-12","s":"GBTC","v":-12.2},{"d":"2021-04-16","s":"GBTC","v":-8.1},{"d":"2021-04-19","s":"GBTC","v":-14.5},{"d":"2021-04-25","s":"GBTC","v":-19.8},{"d":"2021-04-30","s":"GBTC","v":-6.3},
{"d":"2021-05-05","s":"GBTC","v":-12.2},{"d":"2021-05-10","s":"GBTC","v":-15.7},{"d":"2021-05-17","s":"GBTC","v":-22.2},{"d":"2021-05-20","s":"GBTC","v":-15.1},{"d":"2021-05-23","s":"GBTC","v":-19.2},{"d":"2021-05-27","s":"GBTC","v":-4.5},
{"d":"2021-06-01","s":"GBTC","v":-12.2},{"d":"2021-06-05","s":"GBTC","v":-15.7},{"d":"2021-06-10","s":"GBTC","v":-11},{"d":"2021-06-15","s":"GBTC","v":-8.6},{"d":"2021-06-20","s":"GBTC","v":-13.9},{"d":"2021-06-25","s":"GBTC","v":-5.7},{"d":"2021-06-30","s":"GBTC","v":-8.1},
{"d":"2021-07-05","s":"GBTC","v":-11.6},{"d":"2021-07-10","s":"GBTC","v":-12.2},{"d":"2021-07-15","s":"GBTC","v":-12.8},{"d":"2021-07-20","s":"GBTC","v":-16.3},{"d":"2021-07-26","s":"GBTC","v":-13.9},{"d":"2021-07-31","s":"GBTC","v":-6.9},
{"d":"2021-08-05","s":"GBTC","v":-8.1},{"d":"2021-08-10","s":"GBTC","v":-11.6},{"d":"2021-08-15","s":"GBTC","v":-12.2},{"d":"2021-08-21","s":"GBTC","v":-17.5},{"d":"2021-08-26","s":"GBTC","v":-13.9},{"d":"2021-08-31","s":"GBTC","v":-16.3},
{"d":"2021-09-05","s":"GBTC","v":-14.5},{"d":"2021-09-10","s":"GBTC","v":-18.1},{"d":"2021-09-17","s":"GBTC","v":-15.7},{"d":"2021-09-23","s":"GBTC","v":-13.4},{"d":"2021-09-27","s":"GBTC","v":-11.6},
{"d":"2021-10-01","s":"GBTC","v":-15.1},{"d":"2021-10-06","s":"GBTC","v":-18.6},{"d":"2021-10-11","s":"GBTC","v":-13.9},{"d":"2021-10-16","s":"GBTC","v":-20.4},{"d":"2021-10-21","s":"GBTC","v":-21.6},{"d":"2021-10-26","s":"GBTC","v":-18.1},{"d":"2021-10-31","s":"GBTC","v":-13.4},
{"d":"2021-11-05","s":"GBTC","v":-14.5},{"d":"2021-11-10","s":"GBTC","v":-16.3},{"d":"2021-11-15","s":"GBTC","v":-14.5},{"d":"2021-11-20","s":"GBTC","v":-18.6},{"d":"2021-11-25","s":"GBTC","v":-12.2},{"d":"2021-11-30","s":"GBTC","v":-11.6},
{"d":"2021-12-05","s":"GBTC","v":-12.8},{"d":"2021-12-10","s":"GBTC","v":-16.9},{"d":"2021-12-15","s":"GBTC","v":-14.5},{"d":"2021-12-20","s":"GBTC","v":-21.6},{"d":"2021-12-25","s":"GBTC","v":-22.8},{"d":"2021-12-30","s":"GBTC","v":-15.7},
{"d":"2022-01-04","s":"GBTC","v":-21},{"d":"2022-01-09","s":"GBTC","v":-19.8},{"d":"2022-01-12","s":"GBTC","v":-23.9},{"d":"2022-01-17","s":"GBTC","v":-21.6},{"d":"2022-01-20","s":"GBTC","v":-25.1},{"d":"2022-01-25","s":"GBTC","v":-29.8},{"d":"2022-01-30","s":"GBTC","v":-20.4},
{"d":"2022-02-04","s":"GBTC","v":-28.6},{"d":"2022-02-09","s":"GBTC","v":-26.9},{"d":"2022-02-14","s":"GBTC","v":-23.9},{"d":"2022-02-19","s":"GBTC","v":-25.1},{"d":"2022-02-24","s":"GBTC","v":-26.9},
{"d":"2022-03-01","s":"GBTC","v":-24.5},{"d":"2022-03-06","s":"GBTC","v":-26.9},{"d":"2022-03-11","s":"GBTC","v":-29.8},{"d":"2022-03-16","s":"GBTC","v":-30.4},{"d":"2022-03-21","s":"GBTC","v":-29.8},{"d":"2022-03-26","s":"GBTC","v":-27.5},{"d":"2022-03-31","s":"GBTC","v":-26.9},
{"d":"2022-04-05","s":"GBTC","v":-26.3},{"d":"2022-04-10","s":"GBTC","v":-27.5},{"d":"2022-04-15","s":"GBTC","v":-25.1},{"d":"2022-04-20","s":"GBTC","v":-24.5},{"d":"2022-04-26","s":"GBTC","v":-21.6},
{"d":"2022-05-01","s":"GBTC","v":-23.4},{"d":"2022-05-06","s":"GBTC","v":-26.3},{"d":"2022-05-11","s":"GBTC","v":-25.7},{"d":"2022-05-16","s":"GBTC","v":-28.1},{"d":"2022-05-21","s":"GBTC","v":-31.6},{"d":"2022-05-26","s":"GBTC","v":-32.2},{"d":"2022-05-31","s":"GBTC","v":-31.6},{"d":"2022-06-05","s":"GBTC","v":-29.8}
]},
"mark": {"type": "line", "strokeWidth": 5, "strokeJoin": "round", "strokeCap": "round"},
"encoding": {
"x": {"field": "d", "type": "temporal",
 "scale": {"type": "utc", "domain": [{"year": 2020, "month": 1, "date": 2, "utc": true}, {"year": 2022, "month": 6, "date": 6, "utc": true}]},
 "axis": {"title": null,
  "values": [{"year":2020,"month":1,"date":2,"utc":true},{"year":2020,"month":2,"date":2,"utc":true},{"year":2020,"month":3,"date":2,"utc":true},{"year":2020,"month":4,"date":2,"utc":true},{"year":2020,"month":5,"date":2,"utc":true},{"year":2020,"month":6,"date":2,"utc":true},{"year":2020,"month":7,"date":2,"utc":true},{"year":2020,"month":8,"date":2,"utc":true},{"year":2020,"month":9,"date":2,"utc":true},{"year":2020,"month":10,"date":2,"utc":true},{"year":2020,"month":11,"date":2,"utc":true},{"year":2020,"month":12,"date":2,"utc":true},{"year":2021,"month":1,"date":2,"utc":true},{"year":2021,"month":2,"date":2,"utc":true},{"year":2021,"month":3,"date":2,"utc":true},{"year":2021,"month":4,"date":2,"utc":true},{"year":2021,"month":5,"date":2,"utc":true},{"year":2021,"month":6,"date":2,"utc":true},{"year":2021,"month":7,"date":2,"utc":true},{"year":2021,"month":8,"date":2,"utc":true},{"year":2021,"month":9,"date":2,"utc":true},{"year":2021,"month":10,"date":2,"utc":true},{"year":2021,"month":11,"date":2,"utc":true},{"year":2021,"month":12,"date":2,"utc":true},{"year":2022,"month":1,"date":2,"utc":true},{"year":2022,"month":2,"date":2,"utc":true},{"year":2022,"month":3,"date":2,"utc":true},{"year":2022,"month":4,"date":2,"utc":true},{"year":2022,"month":5,"date":2,"utc":true}],
  "labelExpr": "utcFormat(datum.value, '%-m/%-d/%Y')",
  "labelAngle": 270, "labelFont": "DejaVu Sans", "labelFontWeight": "bold", "labelFontSize": 30, "labelColor": "#ffffff",
  "labelPadding": 18, "ticks": false, "domain": false, "grid": false, "labelOverlap": false, "labelFlush": false, "labelLimit": 400}},
"y": {"field": "v", "type": "quantitative",
 "scale": {"domain": [-40, 50], "nice": false, "zero": false},
 "axis": {"title": null, "values": [-40,-30,-20,-10,0,10,20,30,40,50], "labelExpr": "datum.value + '%'",
  "labelFont": "DejaVu Sans", "labelFontWeight": "bold", "labelFontSize": 26, "labelColor": "#ffffff",
  "labelPadding": 33, "ticks": false, "domain": false, "grid": false, "labelOverlap": false, "labelFlush": false}},
"color": {"field": "s", "type": "nominal",
 "scale": {"domain": ["COINXBE","COINXBT","BTCE","BITC","ABTC","BTCW","VBTC","SBTCU","ABCH","GBTC"],
  "range": ["#4F81BD","#C0504D","#9BBB59","#8064A2","#4BACC6","#F79646","#45AEF7","#772C2A","#FFA31A","#FF00FF"]},
 "legend": {"title": null, "orient": "none", "legendX": 8, "legendY": -114, "direction": "horizontal", "columns": 5, "gridAlign": "all",
  "symbolType": "M-1.287,0L1.287,0", "symbolSize": 5000, "symbolStrokeWidth": 7,
  "labelFont": "DejaVu Sans", "labelFontWeight": "bold", "labelFontSize": 20, "labelColor": "#ffffff", "labelOffset": 10,
  "columnPadding": 113, "rowPadding": 0, "labelLimit": 300}}
}
}
